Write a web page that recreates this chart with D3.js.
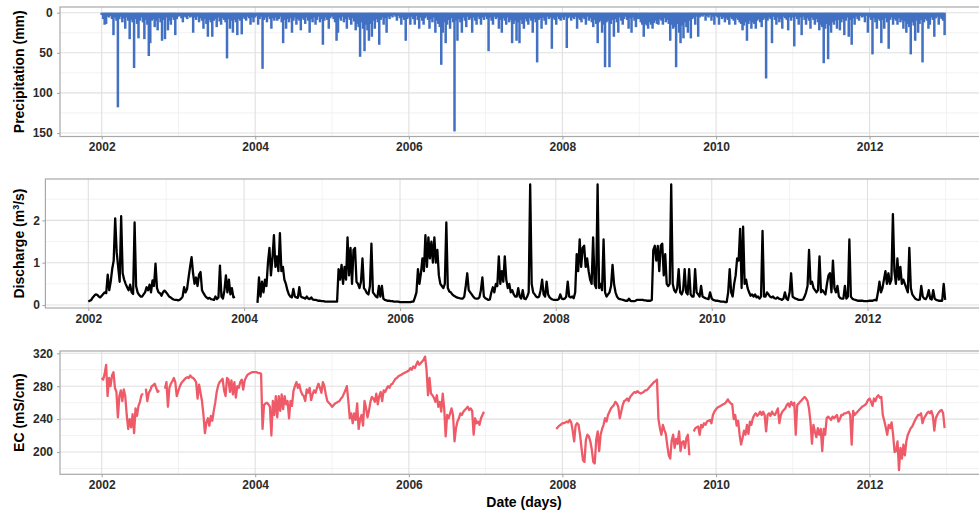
<!DOCTYPE html>
<html><head><meta charset="utf-8">
<script src="https://cdn.jsdelivr.net/npm/d3@7"></script>
<style>
body{margin:0;background:#fff;}
svg{display:block;font-family:"Liberation Sans",Arial,Helvetica,sans-serif;}
</style></head><body>
<svg id="chart" width="979" height="513"></svg>
<script>
const _ = null;
// one row per year, one value per 7-day step starting 1 January
const years = [2002,2003,2004,2005,2006,2007,2008,2009,2010,2011,2012];
const yearTicks = [2002,2004,2006,2008,2010,2012];
const precipTicks = [0,50,100,150];
const dischargeTicks = [0,1,2];
const ecTicks = [200,240,280,320];

const precipitation = [
 [3,8,15,14,5,6,4,8,28,6,10,118,8,5,12,7,20,6,10,33,9,12,69,8,14,32,10,6,12,33,9,15,54,38,10,8,18,10,22,7,12,35,9,33,6,22,10,15,6,9,28,8],
 [5,4,7,12,5,6,8,4,6,5,25,6,9,5,12,7,10,20,8,14,30,9,12,30,10,8,18,6,11,15,7,9,12,57,8,20,10,25,9,12,28,8,10,27,6,8,10,5,7,15,6,12],
 [6,4,15,8,5,70,9,6,12,5,8,20,7,10,6,10,8,5,12,38,9,20,8,12,7,25,10,6,15,8,10,22,7,9,14,6,10,25,8,12,6,15,9,5,12,8,40,10,6,9,20,7],
 [5,8,12,35,25,7,10,5,12,8,20,6,9,15,7,11,22,14,18,55,12,20,48,15,22,35,14,30,10,20,8,12,40,9,6,15,7,25,5,8,4,6,3,5,10,4,7,15,6,9,35,8],
 [6,15,5,8,15,4,9,20,6,10,15,7,5,9,20,8,12,6,25,10,14,18,65,25,12,38,15,9,20,7,12,148,10,35,8,12,25,6,10,18,5,9,7,25,6,10,15,5,8,15,6,9],
 [5,8,48,6,10,15,5,8,6,20,9,25,7,10,15,6,12,9,38,14,10,35,12,38,9,14,20,8,11,15,7,10,25,8,12,62,9,7,20,6,10,15,5,8,6,45,7,9,15,5,8,10],
 [6,9,5,44,7,5,10,6,8,5,20,7,9,12,6,8,15,5,10,7,12,18,9,14,38,12,10,25,15,68,12,10,68,14,9,30,8,12,25,6,10,15,8,5,9,20,7,25,6,10,18,8],
 [8,12,15,30,14,16,20,12,15,20,13,10,14,15,8,10,15,7,12,9,14,35,15,20,18,68,14,25,38,16,32,12,18,25,10,32,8,6,15,5,30,6,4,5,3,10,4,6,3,10,5,15],
 [4,6,15,5,8,6,12,7,9,15,6,8,10,15,7,9,12,14,22,16,12,35,14,10,20,12,14,20,10,8,12,18,9,7,82,10,6,8,38,5,9,15,6,12,8,20,5,7,9,22,6,10],
 [6,42,5,8,15,6,28,5,9,15,7,10,20,6,9,15,8,12,22,15,18,63,20,14,58,16,25,12,15,10,20,9,22,12,8,28,10,6,30,9,40,7,15,5,8,10,4,6,5,12,4,25],
 [6,9,52,7,12,20,8,10,38,9,20,7,12,45,9,6,15,8,10,15,7,12,9,20,11,25,14,18,52,12,16,35,10,25,14,9,62,12,8,10,20,15,6,9,30,7,5,15,6,8,10,28]
];

const discharge = [
 [0.08,0.1,0.12,0.18,0.22,0.25,0.24,0.2,0.18,0.22,0.26,0.3,0.28,0.72,0.35,0.55,0.85,1.05,2.05,1.25,0.9,0.55,2.1,0.75,0.6,0.5,0.42,0.35,0.48,0.3,0.26,1.95,0.45,0.3,0.24,0.2,0.2,0.25,0.3,0.42,0.35,0.48,0.3,0.58,0.45,0.98,0.4,0.3,0.28,0.22,0.3,0.34],
 [0.3,0.25,0.2,0.18,0.15,0.13,0.12,0.12,0.11,0.12,0.15,0.2,0.42,0.3,0.38,0.65,0.9,1.13,0.75,0.5,0.65,0.45,0.72,0.78,0.35,0.28,0.22,0.18,0.15,0.17,0.14,0.13,0.12,0.2,0.14,0.18,0.93,0.2,0.15,0.35,0.7,0.3,0.6,0.25,0.4,0.18,0.2,_,_,_,_,_],
 [_,_,_,_,_,_,_,_,_,0.05,0.65,0.2,0.55,0.3,0.6,0.45,1.0,1.35,0.7,1.1,1.65,0.9,1.15,0.8,1.7,0.8,0.9,0.6,0.5,0.35,0.25,0.2,0.18,0.38,0.2,0.18,0.17,0.42,0.2,0.18,0.17,0.15,0.2,0.15,0.14,0.18,0.13,0.12,0.12,0.11,0.1,0.1],
 [0.09,0.09,0.08,0.08,0.08,0.08,0.08,0.08,0.08,0.08,0.08,0.85,0.6,0.95,0.5,0.9,0.6,1.6,0.7,1.35,0.5,1.3,1.35,0.55,0.5,0.4,0.55,1.1,0.4,0.35,0.28,0.25,0.45,1.45,0.3,0.25,0.2,0.18,0.45,0.2,0.45,0.15,0.12,0.11,0.1,0.1,0.09,0.09,0.08,0.08,0.08,0.08],
 [0.07,0.07,0.07,0.07,0.07,0.07,0.07,0.07,0.08,0.08,0.18,0.3,0.85,0.5,0.75,1.1,0.8,1.65,0.9,1.6,1.1,1.5,1.0,1.6,1.0,1.3,0.7,0.5,0.45,0.4,0.5,1.95,0.4,0.32,0.3,0.25,0.22,0.2,0.18,0.17,0.16,0.15,0.15,0.2,0.45,0.75,0.35,0.3,0.25,0.2,0.16,0.15],
 [0.15,0.18,0.35,0.65,0.2,0.16,0.14,0.12,0.13,0.3,0.42,0.3,0.5,0.45,1.15,0.5,0.8,0.55,1.15,0.6,0.4,0.5,0.3,0.35,0.25,0.2,0.2,0.4,0.2,0.15,0.35,0.15,0.14,0.2,0.3,2.85,0.5,0.3,0.25,0.2,0.18,0.2,0.35,0.6,0.25,0.2,0.55,0.25,0.18,0.15,0.13,0.12],
 [0.12,0.12,0.14,0.25,0.15,0.14,0.15,0.2,0.55,0.2,0.18,0.2,0.16,0.3,1.2,0.8,1.55,0.9,1.35,1.4,0.9,1.1,0.8,0.6,0.5,1.6,0.5,0.4,2.85,0.4,0.5,0.35,1.55,0.3,0.2,0.25,0.3,0.45,0.95,0.5,0.3,0.2,0.15,0.14,0.13,0.12,0.11,0.1,0.1,0.15,0.1,0.09],
 [0.09,0.1,0.12,0.12,0.12,0.12,0.12,0.11,0.11,0.1,0.1,0.1,0.12,1.3,1.4,1.05,1.4,0.8,1.4,1.45,0.7,1.2,0.5,0.45,0.5,2.85,0.5,0.35,0.3,0.4,0.85,0.3,0.25,0.35,0.85,0.3,0.25,0.85,0.25,0.2,0.2,0.85,0.3,0.25,0.2,0.45,0.2,0.18,0.16,0.15,0.14,0.3],
 [0.15,0.12,0.11,0.1,0.1,0.09,0.08,0.08,0.08,0.07,0.07,0.3,0.85,0.3,0.2,0.5,0.7,1.1,1.05,1.8,0.4,1.85,0.5,0.6,0.4,0.3,0.22,0.25,0.2,0.25,0.18,0.2,0.15,0.2,1.75,0.2,0.2,0.3,0.25,0.2,0.18,0.2,0.16,0.15,0.18,0.15,0.14,0.12,0.15,0.3,0.15,0.12],
 [0.3,0.75,0.2,0.17,0.15,0.14,0.12,0.12,0.12,0.13,0.2,0.3,0.45,1.3,0.5,0.55,0.4,0.35,0.3,0.35,1.15,0.3,0.35,0.3,0.25,0.5,0.7,0.75,0.3,1.05,0.4,0.3,0.45,0.2,0.16,0.15,0.15,0.45,0.15,0.2,1.55,0.2,0.15,0.13,0.12,0.11,0.1,0.1,0.1,0.1,0.09,0.09],
 [0.09,0.1,0.1,0.1,0.11,0.12,0.11,0.3,0.55,0.3,0.4,0.6,0.8,0.5,0.75,0.5,0.6,2.15,0.8,0.5,1.1,0.6,0.9,0.5,0.6,0.5,0.4,0.3,1.35,0.4,0.25,0.2,0.15,0.13,0.12,0.13,0.45,0.2,0.15,0.14,0.2,0.35,0.15,0.13,0.35,0.15,0.12,0.11,0.1,0.1,0.1,0.5,0.12]
];

const ec = [
 [290,288,295,306,268,290,280,293,297,278,273,242,268,275,262,276,268,245,228,240,230,246,223,253,244,256,261,269,271,_,277,262,272,275,280,281,283,278,273,275,_,_,_,277,285,255,278,283,286,290,285,268],
 [275,280,284,286,288,290,291,290,293,291,290,288,285,265,282,272,262,245,223,236,241,232,244,238,250,260,273,281,285,287,289,275,268,290,288,273,287,270,285,266,280,278,285,288,276,287,291,294,295,296,297,297],
 [297,297,296,296,295,228,257,259,260,258,255,220,262,245,268,242,268,250,270,252,268,258,262,241,262,256,274,280,285,278,282,274,270,268,262,276,272,278,263,270,275,272,278,283,278,272,285,280,270,262,260,258],
 [255,257,259,260,261,262,265,267,271,275,280,262,241,247,235,247,239,259,228,240,245,232,262,254,242,250,261,267,265,261,271,258,268,273,262,275,273,277,280,278,282,283,286,289,290,292,293,294,295,296,297,298],
 [299,302,300,304,302,306,310,306,308,310,312,316,300,269,290,271,269,266,261,269,255,261,249,271,253,219,245,241,247,253,245,213,229,237,241,247,245,249,251,253,255,251,253,250,221,241,235,237,233,241,245,249],
 [_,_,_,_,_,_,_,_,_,_,_,_,_,_,_,_,_,_,_,_,_,_,_,_,_,_,_,_,_,_,_,_,_,_,_,_,_,_,_,_,_,_,_,_,_,_,_,_,228,230,232,233],
 [235,235,236,237,236,239,236,226,213,232,235,233,221,205,190,188,215,221,219,213,203,188,186,215,225,201,221,228,233,241,237,245,249,253,255,257,261,259,255,241,249,257,262,263,265,262,267,269,271,273,272,274],
 [272,271,272,273,275,275,277,279,281,283,285,286,288,240,229,221,233,227,222,208,196,192,214,221,205,216,210,225,201,212,213,205,217,221,196,_,_,225,229,230,231,221,233,230,235,233,237,238,239,235,245,249],
 [252,254,255,256,257,258,259,261,264,261,259,258,240,245,232,238,221,209,217,226,221,233,222,237,233,241,245,247,244,246,249,245,249,245,225,245,247,244,249,246,245,249,253,235,245,249,251,253,257,259,255,261],
 [257,260,221,257,259,261,263,265,267,265,262,253,237,210,233,225,218,229,221,228,201,228,221,241,243,241,239,243,241,243,245,237,240,245,245,247,247,248,249,245,209,250,245,247,249,251,253,255,256,257,259,263],
 [265,261,256,265,262,267,269,266,267,245,238,230,221,233,229,236,221,200,201,213,178,205,192,209,196,213,221,225,229,231,235,239,242,245,245,247,235,241,244,247,249,247,250,244,226,241,245,248,250,251,247,229]
];

// ---------------------------------------------------------------
const W = 979, H = 513;
const svg = d3.select('#chart');
const toSeries = rows => rows.flatMap((row, k) =>
  row.map((v, i) => ({date: new Date(Date.UTC(years[k], 0, 1 + 7 * i)), v})));

const dStart = new Date(Date.UTC(2002, 0, 1)), dEnd = new Date(Date.UTC(2013, 0, 1));
const yearDate = y => new Date(Date.UTC(y, 0, 1));

const panels = [
  {id:'p', top:7, bottom:136.5, left:60, xr:[101.7, 946.5],
   y: d3.scaleLinear().domain([0,150]).range([12.7,133]), ticks:precipTicks, minor:[25,75,125], labGap:4.3},
  {id:'q', top:179, bottom:308, left:45.4, xr:[88.3, 945.6],
   y: d3.scaleLinear().domain([0,2]).range([305,220.4]), ticks:dischargeTicks, minor:[0.5,1.5,2.5], labGap:2.5},
  {id:'e', top:351, bottom:474.3, left:60, xr:[101.7, 946.5],
   y: d3.scaleLinear().domain([200,320]).range([452,353.3]), ticks:ecTicks, minor:[180,220,260,300], labGap:4}
];
const minorYears = [2001,2003,2005,2007,2009,2011,2013];

panels.forEach(p => {
  p.x = d3.scaleUtc().domain([dStart, dEnd]).range(p.xr);
  const g = svg.append('g');
  const right = 990;
  g.append('rect').attr('x', p.left).attr('y', p.top).attr('width', right - p.left)
    .attr('height', p.bottom - p.top).attr('fill', '#fff');
  const inX = v => v >= p.left && v <= W;
  g.selectAll(null).data(p.minor).enter().append('line')
    .attr('x1', p.left).attr('x2', right).attr('y1', d => p.y(d)).attr('y2', d => p.y(d))
    .attr('stroke', '#EFEFEF').attr('stroke-width', 0.8);
  g.selectAll(null).data(minorYears.filter(y => inX(p.x(yearDate(y))))).enter().append('line')
    .attr('y1', p.top).attr('y2', p.bottom).attr('x1', d => p.x(yearDate(d))).attr('x2', d => p.x(yearDate(d)))
    .attr('stroke', '#EFEFEF').attr('stroke-width', 0.8);
  g.selectAll(null).data(p.ticks).enter().append('line')
    .attr('x1', p.left).attr('x2', right).attr('y1', d => p.y(d)).attr('y2', d => p.y(d))
    .attr('stroke', '#E0E0E0').attr('stroke-width', 1.1);
  g.selectAll(null).data(yearTicks).enter().append('line')
    .attr('y1', p.top).attr('y2', p.bottom).attr('x1', d => p.x(yearDate(d))).attr('x2', d => p.x(yearDate(d)))
    .attr('stroke', '#E0E0E0').attr('stroke-width', 1.1);
  svg.append('clipPath').attr('id', 'clip-' + p.id).append('rect')
    .attr('x', p.left).attr('y', p.top).attr('width', right - p.left).attr('height', p.bottom - p.top);
  p.data = g.append('g').attr('clip-path', `url(#clip-${p.id})`);
  p.g = g; p.right = right;
});

// precipitation bars
{
  const p = panels[0];
  const s = toSeries(precipitation);
  p.data.selectAll('rect').data(s).enter().append('rect')
    .attr('x', d => p.x(d.date) - 1.25).attr('width', 2.5)
    .attr('y', p.y(0)).attr('height', d => p.y(d.v) - p.y(0))
    .attr('fill', '#4270C2');
}
// discharge line
{
  const p = panels[1];
  const line = d3.line().defined(d => d.v !== null).x(d => p.x(d.date)).y(d => p.y(d.v));
  p.data.append('path').datum(toSeries(discharge)).attr('d', line)
    .attr('fill', 'none').attr('stroke', '#000').attr('stroke-width', 2.3).attr('stroke-linejoin', 'round');
}
// EC line
{
  const p = panels[2];
  const line = d3.line().defined(d => d.v !== null).x(d => p.x(d.date)).y(d => p.y(d.v));
  p.data.append('path').datum(toSeries(ec)).attr('d', line)
    .attr('fill', 'none').attr('stroke', '#EF5A68').attr('stroke-width', 2.3).attr('stroke-linejoin', 'round');
}

// borders and axes
panels.forEach((p, k) => {
  p.g.append('rect').attr('x', p.left).attr('y', p.top).attr('width', p.right - p.left)
    .attr('height', p.bottom - p.top).attr('fill', 'none').attr('stroke', '#A8A8A8').attr('stroke-width', 1.2);
  const xa = d3.axisBottom(p.x).tickValues(yearTicks.map(yearDate)).tickFormat(d3.utcFormat('%Y'))
    .tickSize(3).tickPadding(3);
  const gx = p.g.append('g').attr('transform', `translate(0,${p.bottom})`).call(xa);
  const ya = d3.axisLeft(p.y).tickValues(p.ticks).tickFormat(d3.format('d')).tickSize(3).tickPadding(p.labGap);
  const gy = p.g.append('g').attr('transform', `translate(${p.left},0)`).call(ya);
  [gx, gy].forEach(a => {
    a.select('.domain').remove();
    a.selectAll('line').attr('stroke', '#A8A8A8').attr('stroke-width', 1.1);
    a.selectAll('text').attr('fill', '#2B2B2B').style('font-size', '12px').style('font-weight', 'bold')
      .style('font-family', '"Liberation Sans",Arial,sans-serif');
  });
});

// titles
const title = (p, build) => {
  const t = svg.append('text')
    .attr('transform', `translate(24,${(p.top + p.bottom) / 2}) rotate(-90)`)
    .attr('text-anchor', 'middle').attr('fill', '#000')
    .style('font-size', '14px').style('font-weight', 'bold');
  build(t);
};
title(panels[0], t => t.text('Precipitation (mm)'));
title(panels[1], t => {
  t.append('tspan').text('Discharge (m');
  t.append('tspan').text('3').attr('dy', -5).style('font-size', '9px');
  t.append('tspan').text('/s)').attr('dy', 5);
});
title(panels[2], t => t.text('EC (mS/cm)'));
svg.append('text').attr('x', (panels[2].left + 988) / 2).attr('y', 507)
  .attr('text-anchor', 'middle').attr('fill', '#000')
  .style('font-size', '14px').style('font-weight', 'bold').text('Date (days)');
</script>
</body></html>
